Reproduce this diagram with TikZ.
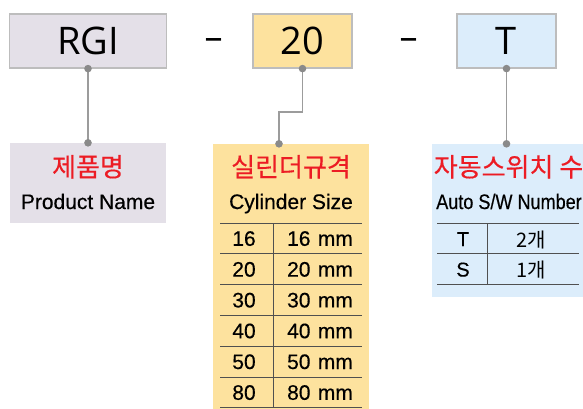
\documentclass[tikz,border=0pt]{standalone}
\usepackage{fontspec}
\setmainfont[FakeBold=0.4]{Liberation Sans}
\newfontfamily\codefont{Open Sans}
\newfontfamily\krfont[FakeBold=0.4]{Noto Sans CJK KR}
\newfontfamily\krlight{Noto Sans CJK KR}
\newfontfamily\narrowfont[FakeStretch=0.86,FakeBold=0.4]{Liberation Sans}
\usetikzlibrary{positioning}
\definecolor{greybox}{HTML}{E4E0E8}
\definecolor{yellowbox}{HTML}{FDE29E}
\definecolor{bluebox}{HTML}{DCEDFB}
\definecolor{boxline}{HTML}{BDBDBD}
\definecolor{titlered}{HTML}{EC1C24}
\definecolor{wiregrey}{HTML}{9C9C9C}
\definecolor{jointgrey}{HTML}{8A8A8A}
\definecolor{rulegrey}{HTML}{505050}
\tikzset{
    codebox/.style ={
        shape=rectangle,
        draw=boxline,
        line width=1.2pt,
        minimum height=54pt,
        inner sep=0pt,
        font=\codefont\fontsize{38}{38}\selectfont
    },
    hyphen/.style ={
        inner sep=0pt,
        anchor=base,
        font=\codefont\fontsize{36}{36}\selectfont
    },
    infobox/.style ={
        shape=rectangle,
        inner sep=0pt,
        minimum width=156pt
    },
    redtitle/.style ={
        text=titlered,
        inner sep=0pt,
        font=\krfont\fontsize{26}{26}\selectfont
    },
    subtitle/.style ={
        inner sep=0pt,
        anchor=base,
        font=\fontsize{21}{21}\selectfont
    },
    cell/.style ={
        inner sep=0pt,
        anchor=base,
        font=\fontsize{21}{21}\selectfont
    },
    krcell/.style ={
        inner sep=0pt,
        font=\krlight\fontsize{20}{20}\selectfont
    },
    rule/.style ={draw=rulegrey, line width=0.9pt},
    wire/.style ={draw=wiregrey, line width=1.3pt}
}
\begin{document}
\begin{tikzpicture}[x=1pt,y=-1pt]
    \useasboundingbox (0,0) rectangle (583,408);
    % model code
    \node[codebox,fill=greybox,minimum width=157pt] (rgi) at (88,41) {RGI};
    \node[codebox,fill=yellowbox,minimum width=99pt] (size) at (302.5,41) {20};
    \node[codebox,fill=bluebox,minimum width=99pt] (sw) at (506.5,41) {T};
    \node[hyphen] (d1) at (213.5,49) {–};
    \node[hyphen] (d2) at (408.5,49) {–};
    % info boxes
    \node[infobox,fill=greybox,minimum height=80pt] (prod) at (88,183) {};
    \node[infobox,fill=yellowbox,minimum height=266pt] (cyl) at (291,277) {};
    \node[infobox,fill=bluebox,minimum width=153pt,minimum height=153pt] (auto) at (508.5,220.5) {};
    % connectors
    \coordinate (kink) at (279,112);
    \coordinate (cyltop) at (kink |- cyl.north);
    \coordinate (autotop) at (sw.south |- auto.north);
    \draw[wire] (rgi.south) -- (prod.north);
    \draw[wire] (size.south) |- (kink) -- (cyltop);
    \draw[wire] (sw.south) -- (autotop);
    \foreach \p in {rgi.south,prod.north,size.south,cyltop,sw.south,autotop}
        \fill[jointgrey] (\p) circle (3.8pt);
    % titles
    \node[redtitle,below=12pt of prod.north] (prodkr) {제품명};
    \node[subtitle] (prodeng) at (88,209) {Product Name};
    \node[redtitle,below=11pt of cyl.north] (cylkr) {실린더규격};
    \node[subtitle] (cyleng) at (291,209) {Cylinder Size};
    \node[redtitle,below=11pt of auto.north] (autokr) {자동스위치 수};
    \node[subtitle,font=\narrowfont\fontsize{21}{21}\selectfont] (autoeng) at (509,209) {Auto S/W Number};
    % cylinder size table
    \foreach \i in {0,...,6}
        \draw[rule] (220,{223+30.8*\i}) -- (362,{223+30.8*\i});
    \draw[rule] (273,223) -- (273,408);
    \foreach \d [count=\i] in {16,20,30,40,50,80} {
        \node[cell] (bore\i) at (244,{215+30.8*\i}) {\d};
        \node[cell] (mm\i) at (320,{215+30.8*\i}) {\d\hspace{0.35em}mm};
    }
    % switch table
    \foreach \y in {223,253.5,284}
        \draw[rule] (437,\y) -- (579,\y);
    \draw[rule] (487,223) -- (487,284);
    \node[cell,font=\fontsize{20}{20}\selectfont] (swt) at (463,246) {T};
    \node[cell,font=\fontsize{20}{20}\selectfont] (sws) at (463,276.5) {S};
    \node[krcell] (twoea) at (531,240) {2개};
    \node[krcell] (oneea) at (531,270.5) {1개};
\end{tikzpicture}
\end{document}
